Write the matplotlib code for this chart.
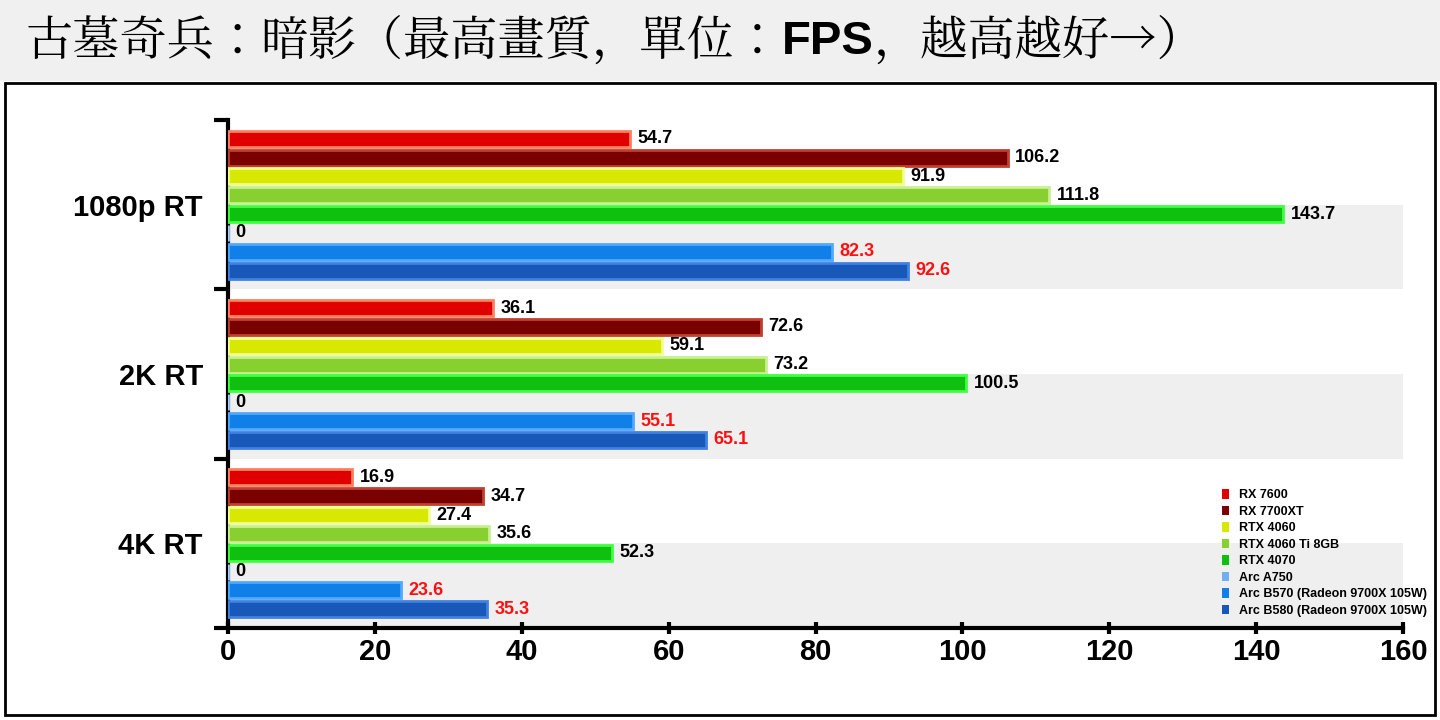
import numpy as np
import matplotlib.pyplot as plt
from matplotlib.patches import Rectangle
from matplotlib import font_manager

cjk = [f.name for f in font_manager.fontManager.ttflist if 'CJK' in f.name]
cjk_font = 'Noto Sans CJK TC' if 'Noto Sans CJK TC' in cjk else (cjk[0] if cjk else 'DejaVu Sans')
plt.rcParams['font.family'] = ['Liberation Sans', cjk_font]

categories = ['1080p RT', '2K RT', '4K RT']
series = ['RX 7600', 'RX 7700XT', 'RTX 4060', 'RTX 4060 Ti 8GB', 'RTX 4070',
          'Arc A750', 'Arc B570 (Radeon 9700X 105W)', 'Arc B580 (Radeon 9700X 105W)']
values = [
    [54.7, 36.1, 16.9],
    [106.2, 72.6, 34.7],
    [91.9, 59.1, 27.4],
    [111.8, 73.2, 35.6],
    [143.7, 100.5, 52.3],
    [0, 0, 0],
    [82.3, 55.1, 23.6],
    [92.6, 65.1, 35.3],
]
colors = ['#e00000', '#7a0000', '#d8e800', '#88d030', '#10c010',
          '#70b0f0', '#1080e8', '#1858b8']
edges = ['#ff8060', '#c04030', '#f0ff90', '#c8f090', '#40ff40',
         '#a0d0ff', '#50a8ff', '#4080e0']
label_colors = ['black'] * 6 + ['#ff1010', '#ff1010']

fig = plt.figure(figsize=(14.4, 7.2), dpi=100)
# title bar
fig.patches.append(Rectangle((0, 1 - 80 / 720), 1, 80 / 720, transform=fig.transFigure,
                             color='#f0f0f0', zorder=0))
fig.patches.append(Rectangle((5 / 1440, 5 / 720), 1430 / 1440, 632 / 720, transform=fig.transFigure,
                             fill=False, edgecolor='black', linewidth=2, zorder=1))
# title in three pieces, placed one after another
renderer = fig.canvas.get_renderer()
x = 0.018
for txt, fam, wt in [('古墓奇兵：暗影（最高畫質，單位：', cjk_font, 'normal'),
                     ('FPS', 'Liberation Sans', 'bold'),
                     ('，越高越好→）', cjk_font, 'normal')]:
    t = fig.text(x, 1 - 42 / 720, txt, fontsize=34, va='center', family=fam, weight=wt)
    bb = t.get_window_extent(renderer)
    x += bb.width / fig.bbox.width

ax = fig.add_axes([228 / 1440, 1 - 628 / 720, 1175 / 1440, 508 / 720])
n = len(series)
step = 1.0 / (n + 1)
for g in range(len(categories)):
    top = g + 0.5 * step
    # grey band for lower half of group
    ax.axhspan(g + 4.5 * step, g + 1, color='#efefef', zorder=0, lw=0)
    for i in range(n):
        y = top + i * step + step / 2
        v = values[i][g]
        ax.barh(y, v, height=step * 0.85, color=colors[i], edgecolor=edges[i], linewidth=2, zorder=3)
        ax.text(v + 1, y, f'{v:g}', va='center', ha='left', fontsize=13, weight='bold',
                color=label_colors[i], zorder=4)
for i in range(n):
    ax.barh(np.nan, 0, color=colors[i], label=series[i])

ax.set_xlim(0, 160)
ax.set_ylim(3, 0)
ax.set_xticks(np.arange(0, 161, 20))
ax.set_yticks([0.5, 1.5, 2.5])
ax.set_yticklabels(categories, fontsize=21, weight='bold')
ax.set_yticks([0, 1, 2, 3], minor=True)
ax.tick_params(axis='y', which='major', length=0, pad=18)
ax.tick_params(axis='y', which='minor', length=10, width=3, direction='out')
ax.tick_params(axis='x', labelsize=21, width=3, length=8, direction='inout')
for lab in ax.get_xticklabels():
    lab.set_fontweight('bold')
for s in ['top', 'right']:
    ax.spines[s].set_visible(False)
ax.spines['left'].set_linewidth(3)
ax.spines['bottom'].set_linewidth(3)
ax.set_facecolor('none')

leg = ax.legend(loc='lower right', bbox_to_anchor=(1.03, 0.0), frameon=False,
                prop={'size': 9, 'weight': 'bold'}, handlelength=0.6, handleheight=0.8,
                labelspacing=0.35)
fig.savefig('out.png', dpi=100)
